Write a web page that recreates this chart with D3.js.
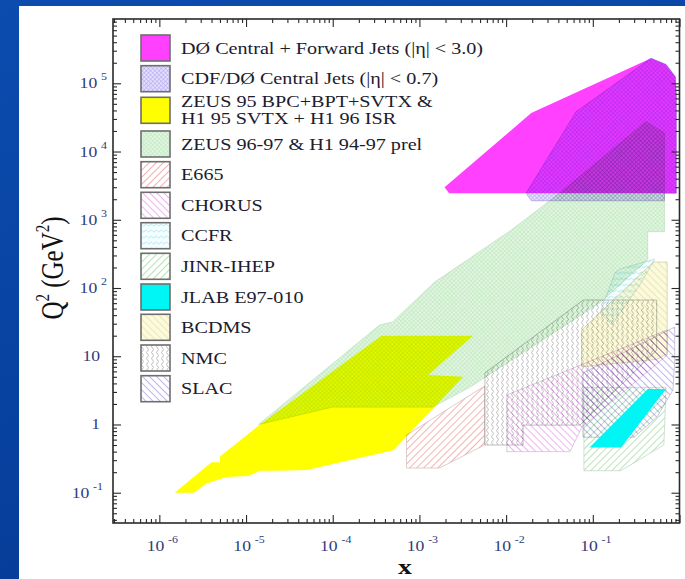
<!DOCTYPE html>
<html><head><meta charset="utf-8">
<script src="https://cdn.jsdelivr.net/npm/d3@7"></script>
<style>
html,body{margin:0;padding:0;background:#0a47a6;}
svg{display:block}
text{font-family:"Liberation Serif","Times New Roman",serif;}
</style>
</head><body>
<svg id="chart" width="685" height="579"></svg>
<script>
// ---- kinematic coverage of structure-function / jet measurements, [x, Q2 (GeV^2)] ----
const d0Forward = [[1.95e-3,3000],[0.0195,36700],[0.47,2.33e5],[0.70,1.89e5],[0.90,1.24e5],[0.92,6.7e4],[0.92,2450],[2.2e-3,2450]];
const cdfCentral = [[0.017,2450],[0.0195,1900],[0.67,1900],[0.67,2450],[0.92,2450],[0.92,6.7e4],[0.90,1.24e5],[0.70,1.89e5],[0.47,2.33e5],[0.0644,38400]];
const zeus95 = [[3.65e-4,20],[4.15e-3,20],[1.26e-3,5.3],[3.2e-3,5.0],[5e-4,0.42],[5e-5,0.215],[2.25e-5,0.21],[1.45e-5,0.21],[1.06e-5,0.176],[6e-6,0.17],[3.5e-6,0.137],[2.5e-6,0.1],[1.5e-6,0.1],[4e-6,0.28],[5e-6,0.28],[5e-6,0.34],[1.45e-5,1.0]];
const zeus9697 = [[1.4e-5,1.0],[3.05e-4,25],[3.5e-4,28.7],[4.9e-4,31.8],[1.5e-3,122],[0.0115,708],[0.0413,2440],[0.41,27400],[0.67,18700],[0.67,669],[0.43,669],[0.43,258],[0.119,60],[3.8e-3,3.5],[1.42e-3,1.8],[1e-4,1.8]];
const e665 = [[7.1e-4,0.23],[7.1e-4,0.70],[5.65e-3,3.66],[5.65e-3,0.5],[1.7e-3,0.23]];
const chorus = [[0.0102,0.40],[0.0546,0.40],[0.075,0.92],[0.72,10.4],[0.72,24.3],[0.0102,2.7]];
const ccfr = [[0.121,43],[0.18,166],[0.206,190],[0.52,266],[0.35,111],[0.166,28.7]];
const jinr = [[0.079,3.5],[0.079,0.21],[0.21,0.21],[0.66,0.5],[0.70,3.5]];
const jlab = [[0.0916,0.46],[0.212,0.46],[0.70,3.3],[0.43,3.3]];
const bcdms = [[0.074,7.0],[0.074,24],[0.5,240],[0.72,240],[0.72,11],[0.55,9]];
const nmc = [[0.0057,5.7],[0.0776,66.7],[0.546,66.7],[0.546,12.3],[0.071,0.98],[0.0157,0.98],[0.0157,0.5],[0.0057,0.5]];
const slac = [[0.077,5.7],[0.077,0.65],[0.3,0.65],[0.55,1.29],[0.84,3.2],[0.88,8],[0.88,26.8]];

const legendLabels = [
  ["DØ Central + Forward Jets (|η| < 3.0)"],
  ["CDF/DØ Central Jets (|η| < 0.7)"],
  ["ZEUS 95 BPC+BPT+SVTX &","H1 95 SVTX + H1 96 ISR"],
  ["ZEUS 96-97 & H1 94-97 prel"],
  ["E665"],["CHORUS"],["CCFR"],["JINR-IHEP"],["JLAB E97-010"],["BCDMS"],["NMC"],["SLAC"]
];
const xTickExps = [-6,-5,-4,-3,-2,-1];
const yTickExps = [-1,0,1,2,3,4,5];
const xTitle = "x";

// ---- layout ----
const svg = d3.select("#chart");
const SX = 1.26; // horizontal stretch of all lettering
const frame = {left:113, right:679.5, top:19, bottom:523};
const x = d3.scaleLog().domain([2.92e-7, 1]).range([frame.left, frame.right]);
const y = d3.scaleLog().domain([0.036, 8.75e5]).range([frame.bottom, frame.top]);

const defs = svg.append("defs");
const bg = defs.append("linearGradient").attr("id","bg").attr("x1",0).attr("y1",0).attr("x2",0.3).attr("y2",1);
bg.append("stop").attr("offset",0).attr("stop-color","#0b4cae");
bg.append("stop").attr("offset",1).attr("stop-color","#063c98");

// hatch / texture patterns
function hatch(id, color, angle, gap, width, base){
  const p = defs.append("pattern").attr("id",id).attr("patternUnits","userSpaceOnUse")
    .attr("width",gap).attr("height",gap).attr("patternTransform",`rotate(${angle})`);
  if(base) p.append("rect").attr("width",gap).attr("height",gap).attr("fill",base);
  p.append("rect").attr("x",0).attr("y",0).attr("width",gap).attr("height",width).attr("fill",color);
}
function cross(id, color, base, gap){
  const p = defs.append("pattern").attr("id",id).attr("patternUnits","userSpaceOnUse")
    .attr("width",gap).attr("height",gap).attr("patternTransform","rotate(45)");
  p.append("rect").attr("width",gap).attr("height",gap).attr("fill",base);
  p.append("rect").attr("width",gap).attr("height",0.6).attr("fill",color);
  p.append("rect").attr("width",0.6).attr("height",gap).attr("fill",color);
}
function wave(id, color, vertical, base){
  const p = defs.append("pattern").attr("id",id).attr("patternUnits","userSpaceOnUse").attr("width",5).attr("height",6);
  if(base) p.append("rect").attr("width",5).attr("height",6).attr("fill",base);
  const d = vertical ? "M2.5,0 Q4.5,1.5 2.5,3 Q0.5,4.5 2.5,6" : "M0,3 Q1.25,1 2.5,3 Q3.75,5 5,3";
  p.append("path").attr("d",d).attr("fill","none").attr("stroke",color).attr("stroke-width",0.8);
}
cross("pCdf","#b2a6ee","#e6e2ff",3);
cross("pZeus","#bde6bd","#e2f7e2",3);
hatch("pE665","#f2aaaa",-45,5,0.9);
hatch("pChorus","#eeacee",45,5,0.9);
wave("pCcfr","#a6e6ee",false,"#f4fdff");
hatch("pJinr","#afe2af",-45,5,0.9);
hatch("pBcdms","#e6dea4",45,5,0.7,"#fcfadc");
wave("pNmc","#ababab",true);
hatch("pSlac","#b8b0ea",45,5,0.9);

// regions in drawing order
const regions = [
  {data:d0Forward, fill:"#ff40ff", stroke:"none", blend:"normal"},
  {data:zeus95, fill:"#ffff00", stroke:"none", blend:"multiply"},
  {data:cdfCentral, fill:"url(#pCdf)", stroke:"#a898d8", blend:"multiply"},
  {data:zeus9697, fill:"url(#pZeus)", stroke:"#bcdcbc", blend:"multiply"},
  {data:e665, fill:"url(#pE665)", stroke:"#d0b8b8", blend:"multiply"},
  {data:chorus, fill:"url(#pChorus)", stroke:"#cdb6cd", blend:"multiply"},
  {data:ccfr, fill:"url(#pCcfr)", stroke:"#c4d8dc", blend:"multiply"},
  {data:jinr, fill:"url(#pJinr)", stroke:"#bcd4bc", blend:"multiply"},
  {data:bcdms, fill:"url(#pBcdms)", stroke:"#ccc8a4", blend:"multiply"},
  {data:nmc, fill:"url(#pNmc)", stroke:"#a4a4a4", blend:"multiply"},
  {data:slac, fill:"url(#pSlac)", stroke:"#b4b0d4", blend:"multiply"},
  {data:jlab, fill:"#00f5f5", stroke:"none", blend:"normal"}
];
const legendFills = ["#ff40ff","url(#pCdf)","#ffff00","url(#pZeus)","url(#pE665)","url(#pChorus)",
  "url(#pCcfr)","url(#pJinr)","#00f5f5","url(#pBcdms)","url(#pNmc)","url(#pSlac)"];

// slide background and white panel
svg.append("rect").attr("width",685).attr("height",579).attr("fill","url(#bg)");
svg.append("rect").attr("x",19).attr("y",6).attr("width",666).attr("height",573).attr("fill","#ffffff");

defs.append("clipPath").attr("id","plotClip").append("rect")
  .attr("x",frame.left).attr("y",frame.top).attr("width",frame.right-frame.left).attr("height",frame.bottom-frame.top);

const line = d3.line().x(d=>x(d[0])).y(d=>y(d[1])).curve(d3.curveLinearClosed);
const plot = svg.append("g").attr("clip-path","url(#plotClip)").style("isolation","isolate");
plot.selectAll("path.region").data(regions).join("path").attr("class","region")
  .attr("d",r=>line(r.data)).attr("fill",r=>r.fill).attr("stroke",r=>r.stroke).attr("stroke-width",0.7)
  .style("mix-blend-mode",r=>r.blend);

// ---- axes: ticks on all four sides, pointing inward ----
const inX = v=>v>=x.domain()[0]&&v<=x.domain()[1];
const inY = v=>v>=y.domain()[0]&&v<=y.domain()[1];
const majorX = d3.range(-7,1).map(e=>Math.pow(10,e)).filter(inX);
const minorX = d3.range(-7,1).flatMap(e=>d3.range(2,10).map(m=>m*Math.pow(10,e))).filter(inX);
const majorY = d3.range(-2,7).map(e=>Math.pow(10,e)).filter(inY);
const minorY = d3.range(-2,7).flatMap(e=>d3.range(2,10).map(m=>m*Math.pow(10,e))).filter(inY);

function addAxis(axisFn, scale, values, size, transform){
  const g = svg.append("g").attr("transform",transform)
    .call(axisFn(scale).tickValues(values).tickSizeInner(-size).tickSizeOuter(0).tickFormat(""));
  g.select(".domain").remove();
  g.selectAll(".tick line").attr("stroke","#2a2a2a").attr("stroke-width",1.1);
}
[[majorX,8],[minorX,4]].forEach(([v,s])=>{
  addAxis(d3.axisBottom,x,v,s,`translate(0,${frame.bottom})`);
  addAxis(d3.axisTop,x,v,s,`translate(0,${frame.top})`);
});
[[majorY,8],[minorY,4]].forEach(([v,s])=>{
  addAxis(d3.axisLeft,y,v,s,`translate(${frame.left},0)`);
  addAxis(d3.axisRight,y,v,s,`translate(${frame.right},0)`);
});
svg.append("rect").attr("x",frame.left).attr("y",frame.top).attr("width",frame.right-frame.left)
  .attr("height",frame.bottom-frame.top).attr("fill","none").attr("stroke","#2a2a2a").attr("stroke-width",1.6);

// tick labels
const labelColor = "#2f3b78";
xTickExps.forEach(e=>{
  const t = svg.append("text").attr("transform",`translate(${x(Math.pow(10,e))+3},551) scale(${SX},1)`)
    .attr("text-anchor","middle").attr("fill",labelColor).style("font-size","14px");
  t.append("tspan").text("10");
  t.append("tspan").attr("dx",3).attr("dy",-8).style("font-size","9.5px").text(String(e));
});
yTickExps.forEach(e=>{
  const yy = y(Math.pow(10,e));
  if(e===0 || e===1){
    svg.append("text").attr("transform",`translate(100,${yy+5}) scale(${SX},1)`).attr("text-anchor","end")
      .attr("fill",labelColor).style("font-size","14px").text(e===0?"1":"10");
  } else {
    const t = svg.append("text").attr("transform",`translate(${e<0?103:107},${yy+5}) scale(${SX},1)`)
      .attr("text-anchor","end").attr("fill",labelColor).style("font-size","14px");
    t.append("tspan").text("10");
    t.append("tspan").attr("dx",3).attr("dy",-8).style("font-size","9.5px").text(String(e));
  }
});

// axis titles
svg.append("text").attr("transform",`translate(405,574) scale(${SX},1)`).attr("text-anchor","middle")
  .attr("fill","#111").style("font-size","22px").style("font-weight","bold").text(xTitle);
const yt = svg.append("text").attr("transform",`translate(63,268) scale(${SX},1) rotate(-90)`)
  .attr("text-anchor","middle").attr("fill","#111").style("font-size","25px");
yt.append("tspan").text("Q");
yt.append("tspan").attr("dy",-11).style("font-size","15px").text("2");
yt.append("tspan").attr("dy",11).text(" (GeV");
yt.append("tspan").attr("dy",-11).style("font-size","15px").text("2");
yt.append("tspan").attr("dy",11).text(")");

// ---- legend ----
const boxTops = [35,65.7,97.3,131,161.7,192.3,222.7,253.3,284,314.3,345,375.7];
const leg = svg.append("g");
legendLabels.forEach((lines,i)=>{
  const top = boxTops[i];
  const h = 26;
  leg.append("rect").attr("x",141).attr("y",top).attr("width",29).attr("height",h)
    .attr("fill",legendFills[i]).attr("stroke","#6e6e6e").attr("stroke-width",1.6);
  lines.forEach((s,k)=>{
    const by = lines.length===1 ? top+h/2+5.5 : top+10+k*17;
    leg.append("text").attr("transform",`translate(181,${by}) scale(${SX},1)`)
      .attr("fill","#1c1c30").style("font-size","16px").text(s);
  });
});
</script>
</body></html>
